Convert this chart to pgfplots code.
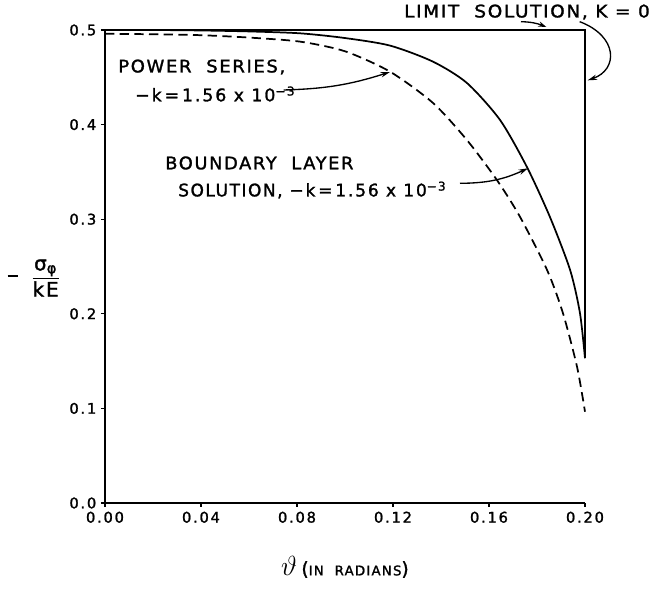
\documentclass[border=0pt]{standalone}
\usepackage{pgfplots}
\pgfplotsset{compat=1.18}
\usepackage{fontspec}
\setmainfont{DejaVu Sans}
\newfontfamily\lettering[LetterSpace=9,FakeBold=1.5]{DejaVu Sans}
\newfontfamily\kfont[LetterSpace=11,FakeBold=1.5]{DejaVu Sans}
\newfontfamily\tickfont[LetterSpace=12,FakeBold=1.5]{DejaVu Sans}
\usetikzlibrary{arrows.meta}
\begin{document}
\begin{tikzpicture}
\useasboundingbox (-78.75pt,-64.5pt) rectangle (409.5pt,377.25pt);
\begin{axis}[
  anchor=origin, at={(0,0)},
  scale only axis, width=360pt, height=354.75pt,
  xmin=0, xmax=0.2, ymin=0, ymax=0.5,
  axis lines*=left, axis line style={line width=1.3pt},
  clip=false,
  xtick={0,0.04,0.08,0.12,0.16,0.20},
  ytick={0,0.1,0.2,0.3,0.4,0.5},
  xticklabel style={/pgf/number format/fixed,/pgf/number format/fixed zerofill,/pgf/number format/precision=2},
  yticklabel style={/pgf/number format/fixed,/pgf/number format/fixed zerofill,/pgf/number format/precision=1},
  /pgf/number format/assume math mode=true,
  tick label style={font=\tickfont\fontsize{11}{13}\selectfont},
  tick align=outside, major tick length=3pt,
  tick style={line width=1pt, black},
  xlabel={{\fontsize{20}{22}\selectfont$\vartheta$}\ {\lettering\fontsize{14}{16}\selectfont(\fontsize{10}{12}\selectfont IN\ \ RADIANS\fontsize{14}{16}\selectfont)}},
  xlabel style={at={(axis cs:0.1,0)}, anchor=center, yshift=-48pt},
  ylabel={\lettering\fontsize{15}{18}\selectfont \raisebox{4.5pt}{\rule{7.5pt}{1.6pt}}\hspace{10pt}$\displaystyle\frac{\mbox{σ}_{\mbox{\fontsize{11}{12}\selectfont φ}}}{\mbox{kE}}$},
  ylabel style={rotate=-90, at={(axis cs:-0.0296,0.2378)}, anchor=center},
]
% limit solution, k = 0
\addplot[black, line width=1.3pt] coordinates {(0,0.5) (0.2,0.5) (0.2,0.153)};
% boundary layer solution
\addplot[black, line width=1.3pt, smooth, tension=0.45] coordinates {
(0,0.5) (0.02,0.5) (0.04,0.4995) (0.06,0.4985) (0.0813,0.4965) (0.10,0.4915)
(0.1188,0.4835) (0.1367,0.4665) (0.1508,0.4440) (0.1646,0.4049) (0.1758,0.3552)
(0.1854,0.3023) (0.1938,0.2463) (0.1979,0.2008) (0.2,0.153)};
% power series
\addplot[black, line width=1.3pt, dash pattern=on 7pt off 4pt, smooth, tension=0.45] coordinates {
(0,0.496) (0.02,0.4955) (0.04,0.4945) (0.06,0.492) (0.0813,0.4877) (0.10,0.4775)
(0.1188,0.4559) (0.1367,0.4228) (0.1508,0.3837) (0.1633,0.3414) (0.1729,0.3026)
(0.1842,0.2463) (0.1908,0.2008) (0.1967,0.1438) (0.2,0.0965)};
\end{axis}
\begin{scope}[every node/.style={font=\lettering\fontsize{13}{15}\selectfont, inner sep=0pt}]
\node[anchor=center, xscale=1.066] at (316.5pt,368.25pt) {LIMIT\ \ SOLUTION,\ K = 0};
\node[anchor=west, xscale=1.04] at (9.75pt,327pt) {POWER\ \ SERIES,};
\node[anchor=west] at (22.5pt,306.75pt) {\kfont −k\,=\,1.56 x 10\textsuperscript{−3}};
\node[anchor=west, xscale=1.03] at (45pt,255pt) {BOUNDARY\ \ LAYER};
\node[anchor=west, xscale=0.98] at (54.75pt,234.75pt) {SOLUTION,\ {\kfont −k\,=\,1.56 x 10\textsuperscript{−3}}};
\end{scope}
\draw[line width=1pt, -{Stealth[length=7pt,width=4pt]}] (134pt,309.75pt) to[bend right=8] (213.75pt,323.25pt);
\draw[line width=1pt, -{Stealth[length=7pt,width=4pt]}] (266.25pt,239.75pt) to[bend right=12] (317.25pt,251pt);
\draw[line width=1pt, -{Stealth[length=6pt,width=4pt]}] (312pt,361pt) to[bend left=10] (331pt,357pt);
\draw[line width=1pt, -{Stealth[length=7pt,width=4pt]}] (356pt,361pt) .. controls (385pt,350pt) and (385pt,325pt) .. (362pt,317pt);
\end{tikzpicture}
\end{document}
